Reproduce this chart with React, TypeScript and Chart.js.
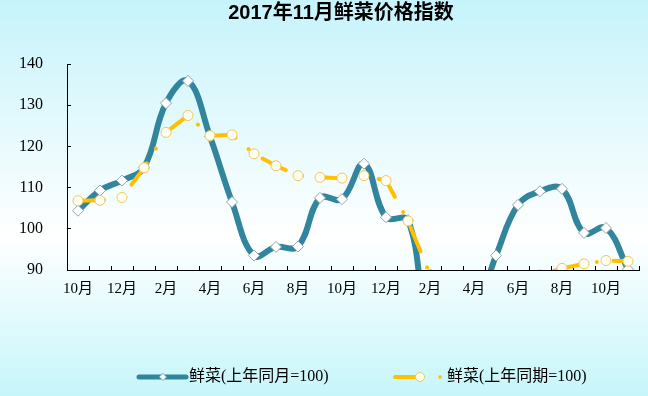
import React, { useEffect, useRef } from 'react';
import { Chart, registerables } from 'chart.js';

Chart.register(...registerables);

// ---------- data ----------
const TITLE = '2017年11月鲜菜价格指数';
const months = [
  '10月', '11月', '12月', '1月', '2月', '3月', '4月', '5月', '6月', '7月', '8月', '9月', '10月',
  '11月', '12月', '1月', '2月', '3月', '4月', '5月', '6月', '7月', '8月', '9月', '10月', '11月',
];
const seriesNames = ['鲜菜(上年同月=100)', '鲜菜(上年同期=100)'];
// 上年同月=100
const sameMonthIndex = [
  104.4, 109.3, 111.7, 114.9, 130.5, 135.9, 122.4, 106.5, 93.5, 95.6, 95.7, 107.5, 107.2,
  115.8, 102.8, 102.1, 75.8, 79.0, 80.0, 93.5, 105.8, 109.1, 109.7, 99.0, 100.2, 90.2,
];
// 上年同期=100
const samePeriodIndex = [
  106.8, 106.9, 107.6, 114.8, 123.4, 127.5, 122.6, 122.8, 118.2, 115.3, 112.9, 112.5, 112.3,
  112.9, 111.7, 101.9, 88.9, 86.5, 85.0, 86.0, 87.5, 88.8, 90.4, 91.5, 92.3, 92.1,
];
const Y_MIN = 90;
const Y_MAX = 140;
const Y_STEP = 10;

// ---------- styles ----------
const TEAL = '#31859C';
const YELLOW = '#FFC000';
const TICK_FONT = "'Liberation Serif', 'Noto Sans CJK SC', serif";
const LEGEND_FONT = "16px 'Liberation Serif', 'Noto Sans CJK SC', serif";
const TITLE_FONT = "bold 20px 'Liberation Sans', 'Noto Sans CJK SC', sans-serif";

const bgPlugin = {
  id: 'bgGradient',
  beforeDraw(chart: any) {
    const { ctx, width, height } = chart;
    const g = ctx.createLinearGradient(0, 0, 0, height);
    g.addColorStop(0, '#C6F3FB');
    g.addColorStop(0.6, '#FFFFFF');
    g.addColorStop(1, '#C6F6FA');
    ctx.save();
    ctx.fillStyle = g;
    ctx.fillRect(0, 0, width, height);
    ctx.restore();
  },
};

const titlePlugin = {
  id: 'offsetTitle',
  afterDraw(chart: any) {
    const ctx = chart.ctx;
    ctx.save();
    ctx.fillStyle = '#000000';
    ctx.font = TITLE_FONT;
    ctx.textAlign = 'center';
    ctx.textBaseline = 'middle';
    ctx.fillText(TITLE, 341, 13);
    ctx.restore();
  },
};

const legendPlugin = {
  id: 'lineLegend',
  afterDraw(chart: any) {
    const ctx = chart.ctx;
    const ds = chart.data.datasets;
    const y = 377;
    ctx.save();
    // item 1
    ctx.lineCap = 'round';
    ctx.strokeStyle = ds[0].borderColor;
    ctx.lineWidth = 5;
    ctx.beginPath();
    ctx.moveTo(139, y);
    ctx.lineTo(186, y);
    ctx.stroke();
    ctx.fillStyle = '#FFFFFF';
    ctx.strokeStyle = '#8FA8B0';
    ctx.lineWidth = 1;
    ctx.beginPath();
    ctx.moveTo(163, y - 3.5);
    ctx.lineTo(166.5, y);
    ctx.lineTo(163, y + 3.5);
    ctx.lineTo(159.5, y);
    ctx.closePath();
    ctx.fill();
    ctx.stroke();
    // item 2
    ctx.strokeStyle = ds[1].borderColor;
    ctx.lineWidth = 4;
    ctx.beginPath();
    ctx.moveTo(395, y);
    ctx.lineTo(416, y);
    ctx.stroke();
    ctx.fillStyle = '#FFFFF2';
    ctx.strokeStyle = '#F0C75A';
    ctx.lineWidth = 1;
    ctx.beginPath();
    ctx.arc(420, y, 4.5, 0, Math.PI * 2);
    ctx.fill();
    ctx.stroke();
    ctx.fillStyle = ds[1].borderColor;
    ctx.beginPath();
    ctx.arc(440, y, 1.8, 0, Math.PI * 2);
    ctx.fill();
    // texts
    ctx.fillStyle = '#000000';
    ctx.font = LEGEND_FONT;
    ctx.textBaseline = 'middle';
    ctx.textAlign = 'left';
    ctx.fillText(ds[0].label, 189, y);
    ctx.fillText(ds[1].label, 447, y);
    ctx.restore();
  },
};

export default function App() {
  const canvasRef = useRef<HTMLCanvasElement | null>(null);

  useEffect(() => {
    document.body.style.margin = '0';
    const canvas = canvasRef.current;
    if (!canvas) return;
    const chart = new Chart(canvas, {
      type: 'line',
      data: {
        labels: months,
        datasets: [
          {
            label: seriesNames[0],
            data: sameMonthIndex,
            borderColor: TEAL,
            backgroundColor: TEAL,
            borderWidth: 6,
            tension: 0.4,
            pointStyle: 'rectRot',
            pointRadius: 5.5,
            pointBackgroundColor: '#FFFFFF',
            pointBorderColor: '#8FA8B0',
            pointBorderWidth: 1,
            fill: false,
            order: 1,
          },
          {
            label: seriesNames[1],
            data: samePeriodIndex,
            borderColor: YELLOW,
            backgroundColor: YELLOW,
            borderWidth: 4,
            borderDash: [26, 17.4, 0.01, 16.9],
            borderCapStyle: 'round',
            tension: 0,
            pointStyle: 'circle',
            pointRadius: 5,
            pointBackgroundColor: '#FFFFF2',
            pointBorderColor: '#F0C75A',
            pointBorderWidth: 1,
            fill: false,
            order: 0,
          },
        ],
      },
      options: {
        responsive: false,
        animation: false,
        devicePixelRatio: 1,
        events: [],
        layout: { padding: { left: 0, right: 9, top: 64, bottom: 60 } },
        plugins: {
          legend: { display: false },
          tooltip: { enabled: false },
          title: { display: false },
        },
        scales: {
          x: {
            type: 'category',
            offset: true,
            grid: { drawOnChartArea: false, tickLength: -4, color: '#000000', offset: true },
            border: { color: '#000000', width: 1 },
            ticks: {
              autoSkip: false,
              maxRotation: 0,
              minRotation: 0,
              padding: 14,
              color: '#000000',
              font: { family: TICK_FONT, size: 15 },
              callback: (_v: any, i: number) => (i % 2 === 0 ? months[i] : ''),
            },
            afterFit: (s: any) => {
              s.height = 66;
            },
          },
          y: {
            min: Y_MIN,
            max: Y_MAX,
            ticks: {
              stepSize: Y_STEP,
              padding: 28,
              color: '#000000',
              font: { family: TICK_FONT, size: 16 },
            },
            grid: { drawOnChartArea: false, tickLength: -4, color: '#000000' },
            border: { color: '#000000', width: 1 },
            afterFit: (s: any) => {
              s.width = 67;
            },
          },
        },
      },
      plugins: [bgPlugin, titlePlugin, legendPlugin],
    } as any);
    return () => chart.destroy();
  }, []);

  return (
    <div style={{ width: 648, height: 396 }}>
      <canvas ref={canvasRef} width={648} height={396} style={{ display: 'block', width: 648, height: 396 }} />
    </div>
  );
}
